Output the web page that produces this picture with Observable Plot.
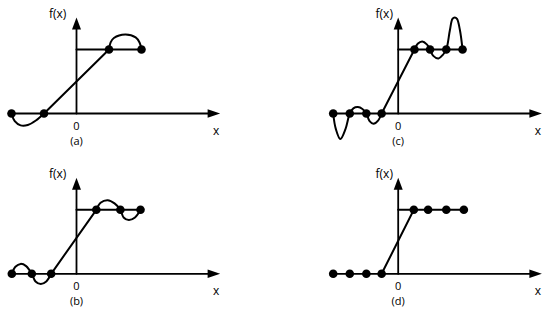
<!DOCTYPE html>
<html><head><meta charset="utf-8">
<script src="https://cdn.jsdelivr.net/npm/d3@7"></script>
<script src="https://cdn.jsdelivr.net/npm/@observablehq/plot@0.6"></script>
<style>
html,body{margin:0;padding:0;background:#fff;}
#chart{position:relative;width:550px;height:316px;overflow:hidden;background:#fff;}
#chart svg{position:absolute;overflow:visible;}
</style></head><body><div id="chart"></div>
<script>
// ---- data ----
const panelNames = ["(a)", "(b)", "(c)", "(d)"];
// interpolation node x positions (f = 0 left of 0, f = 1 right of 0)
const nodesA = [-2, -1, 1, 2];
const nodesB = [-1.99, -1.375, -0.78, 0.61, 1.35, 1.97];
const nodesC = [-2, -1.49, -0.98, -0.51, 0.5, 0.98, 1.48, 1.98];
const nodesD = [-2, -1.49, -0.98, -0.51, 0.48, 0.92, 1.48, 2.02];
// oscillating interpolants, sampled along the drawn curves [x, y]
const wiggleA = [
  [[-2,0],[-1.9,-0.12],[-1.72,-0.185],[-1.5,-0.18],[-1.25,-0.11],[-1,0]],
  [[1,1],[1.05,1.11],[1.15,1.18],[1.5,1.235],[1.82,1.19],[1.94,1.11],[2,1]]
];
const wiggleB = [
  [[-1.99,0],[-1.88,0.11],[-1.72,0.155],[-1.55,0.12],[-1.375,0],[-1.26,-0.12],[-1.1,-0.16],[-0.93,-0.12],[-0.78,0]],
  [[0.61,1],[0.74,1.11],[0.96,1.15],[1.17,1.1],[1.35,1],[1.45,0.88],[1.61,0.84],[1.8,0.88],[1.97,1]]
];
const wiggleC = [
  [[-2,0],[-1.92,-0.24],[-1.78,-0.40],[-1.62,-0.24],[-1.49,0],[-1.38,0.08],[-1.24,0.10],[-1.1,0.07],[-0.98,0],[-0.88,-0.12],[-0.76,-0.16],[-0.62,-0.11],[-0.51,0]],
  [[0.5,1],[0.6,1.09],[0.74,1.125],[0.88,1.08],[0.98,1],[1.08,0.9],[1.24,0.86],[1.38,0.92],[1.48,1],[1.59,1.3],[1.67,1.48],[1.74,1.5],[1.81,1.48],[1.9,1.3],[1.98,1]]
];
const wiggleD = [];
const axisLabelX = "x", axisLabelY = "f(x)", originLabel = "0";

// ---- layout ----
const UX = 32.5, UY = 64;             // px per unit
const XTIP = 4.42, YTIP = 1.5;         // arrow tips (data units)
const panels = [
  {name: panelNames[0], nodes: nodesA, wig: wiggleA, left: 0,   top: 0,   ox: 76,    oy: 113,   fx: -0.58},
  {name: panelNames[1], nodes: nodesB, wig: wiggleB, left: 0,   top: 158, ox: 76,    oy: 115.3, fx: -0.58},
  {name: panelNames[2], nodes: nodesC, wig: wiggleC, left: 275, top: 0,   ox: 122.7, oy: 113,   fx: -0.43},
  {name: panelNames[3], nodes: nodesD, wig: wiggleD, left: 275, top: 158, ox: 122.7, oy: 115.3, fx: -0.43}
];

const arrowRight = {draw(ctx) { ctx.moveTo(0, 0); ctx.lineTo(-12.5, -4.2); ctx.lineTo(-12.5, 4.2); ctx.closePath(); }};
const arrowUp = {draw(ctx) { ctx.moveTo(0, 0); ctx.lineTo(-4.5, 12); ctx.lineTo(4.5, 12); ctx.closePath(); }};

const chart = document.getElementById("chart");
const SW = 2;

for (const p of panels) {
  const pts = p.nodes.map(x => ({x, y: x < 0 ? 0 : 1}));
  const lastNeg = pts.filter(d => d.x < 0).pop();
  const firstPos = pts.find(d => d.x > 0);
  const wig = p.wig.flatMap((seg, i) => seg.map(([x, y]) => ({x, y, piece: i})));
  const xAxis = [{x: p.nodes[0], y: 0}, {x: XTIP - 0.25, y: 0}];
  const yAxis = [{x: 0, y: 0}, {x: 0, y: YTIP - 0.12}];
  const stepTop = [{x: 0, y: 1}, {x: p.nodes[p.nodes.length - 1], y: 1}];
  const chord = [lastNeg, firstPos];

  const svg = Plot.plot({
    width: 275, height: 158, margin: 0,
    x: {domain: [-2.3, 4.6], range: [p.ox - 2.3 * UX, p.ox + 4.6 * UX], axis: null},
    y: {domain: [-0.6, 1.7], range: [p.oy + 0.6 * UY, p.oy - 1.7 * UY], axis: null},
    style: {fontFamily: "'Open Sans', sans-serif", fontSize: "11px", background: "transparent", color: "#000"},
    marks: [
      Plot.line(xAxis, {x: "x", y: "y", stroke: "#000", strokeWidth: 1.8}),
      Plot.line(yAxis, {x: "x", y: "y", stroke: "#000", strokeWidth: 1.8}),
      Plot.dot([XTIP], {x: d => d, y: 0, symbol: arrowRight, fill: "#000", stroke: "none"}),
      Plot.dot([YTIP], {x: 0, y: d => d, symbol: arrowUp, fill: "#000", stroke: "none"}),
      Plot.line(stepTop, {x: "x", y: "y", stroke: "#000", strokeWidth: SW}),
      Plot.line(chord, {x: "x", y: "y", stroke: "#000", strokeWidth: SW}),
      Plot.line(wig, {x: "x", y: "y", z: "piece", curve: "catmull-rom", stroke: "#000", strokeWidth: SW}),
      Plot.dot(pts, {x: "x", y: "y", r: 4.3, fill: "#000", stroke: "none"}),
      Plot.text([axisLabelY], {x: p.fx, y: 1.56, text: d => d, fill: "#000", fontSize: 12}),
      Plot.text([originLabel], {x: 0, y: -0.2, text: d => d, fill: "#000"}),
      Plot.text([axisLabelX], {x: 4.3, y: -0.27, text: d => d, fill: "#000", fontSize: 12}),
      Plot.text([p.name], {x: 0, y: -0.44, text: d => d, fill: "#000"})
    ]
  });
  svg.style.left = p.left + "px";
  svg.style.top = p.top + "px";
  chart.appendChild(svg);
}
</script></body></html>
